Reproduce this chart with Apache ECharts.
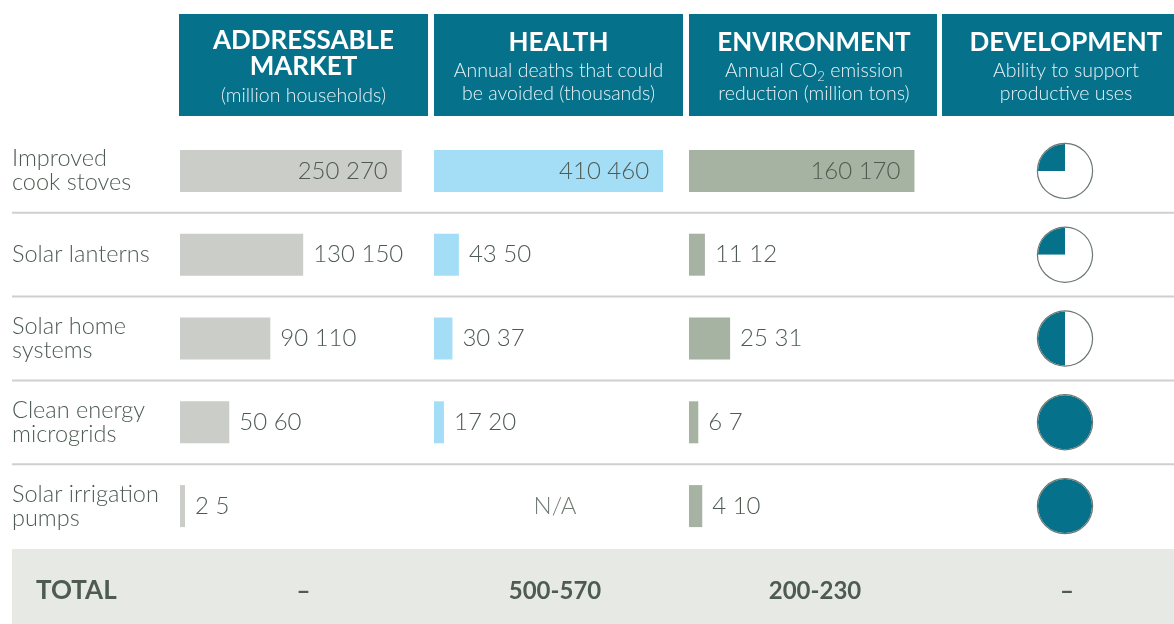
<!DOCTYPE html>
<html><head><meta charset="utf-8">
<script src="https://cdn.jsdelivr.net/npm/echarts@6/dist/echarts.min.js"></script>
<style>html,body{margin:0;padding:0;background:#fff}#c{width:1174px;height:624px}</style>
</head><body><div id="c"></div>
<script>
const rowLabels = ['Improved\ncook stoves','Solar lanterns','Solar home\nsystems','Clean energy\nmicrogrids','Solar irrigation\npumps'];
const marketLow = [250,130,90,50,2];
const marketHigh = [270,150,110,60,5];
const healthLow = [410,43,30,17,null];
const healthHigh = [460,50,37,20,null];
const envLow = [160,11,25,6,4];
const envHigh = [170,12,31,7,10];
const devShare = [0.25,0.25,0.5,1,1];
const totalLabel = 'TOTAL';
const totals = ['–','500-570','200-230','–'];

const FONT = 'Lato, "Open Sans", sans-serif';
const TXT = '#4d5b53';
const TEAL = '#05718b';
const rowTop = 129, rowH = 83.8, nRows = rowLabels.length;

const chart = echarts.init(document.getElementById('c'));

const cols = [
  {left:180, width:248, max:302, low:marketLow, high:marketHigh, color:'#cbcdc8'},
  {left:434, width:249, max:500, low:healthLow, high:healthHigh, color:'#a4def6'},
  {left:689, width:248, max:187, low:envLow, high:envHigh, color:'#a6b3a2'}
];

const grids = [], xAxes = [], yAxes = [], series = [];
cols.forEach((c, gi) => {
  grids.push({left:c.left, width:c.width, top:rowTop, height:rowH*nRows});
  xAxes.push({type:'value', gridIndex:gi, min:0, max:c.max, show:false});
  yAxes.push({type:'category', gridIndex:gi, inverse:true, data:rowLabels,
    axisLine:{show:false}, axisTick:{show:false},
    axisLabel: gi === 0 ? {show:true, align:'left', margin:168, fontFamily:FONT, fontSize:23.5, fontWeight:300, color:TXT, lineHeight:24} : {show:false}
  });
  series.push({
    type:'bar', xAxisIndex:gi, yAxisIndex:gi, barWidth:42, barMinHeight:5,
    itemStyle:{color:c.color},
    data: c.high.map((v, i) => {
      if (v == null) return null;
      const inside = v > 0.6 * c.max;
      return {value:v, label:{position: inside ? 'insideRight' : 'right', distance: inside ? 14 : 10}};
    }),
    label:{show:true, fontFamily:FONT, fontSize:24, fontWeight:300, color:TXT,
      formatter: p => c.low[p.dataIndex] + ' ' + c.high[p.dataIndex]}
  });
});

// N/A label for health column missing row (centred in the column)
healthHigh.forEach((v, i) => {
  if (v == null) {
    series.push({type:'scatter', xAxisIndex:1, yAxisIndex:1, symbolSize:0, silent:true,
      data:[[cols[1].max*0.486, i]],
      label:{show:true, position:'inside', formatter:'N/A', fontFamily:FONT, fontSize:24, fontWeight:300, color:TXT}});
  }
});

// development pies
const pieX = 1065, pieR = 27;
devShare.forEach((f, i) => {
  const cy = rowTop + rowH*(i+0.5);
  const data = [{value:f, itemStyle:{color:TEAL}}];
  if (1 - f > 0) data.push({value:1-f, itemStyle:{color:'#ffffff'}});
  series.push({type:'pie', center:[pieX, cy], radius:[0, pieR], startAngle:90, clockwise:false,
    silent:true, label:{show:false}, labelLine:{show:false}, data});
  series.push({type:'pie', center:[pieX, cy], radius:[pieR, pieR+1.2], silent:true,
    label:{show:false}, labelLine:{show:false}, data:[{value:1, itemStyle:{color:'#6b7770'}}]});
});

// graphics: headers, separators, totals band
const graphic = [];
const headers = [
  {x:179, w:249, cx:303.5, lines:[['ADDRESSABLE',41],['MARKET',67]], sub:[['(million households)',96]]},
  {x:434, w:249, cx:558.5, lines:[['HEALTH',43]], sub:[['Annual deaths that could',71],['be avoided (thousands)',94]]},
  {x:689, w:248, cx:814, lines:[['ENVIRONMENT',43]], sub:[['Annual CO{s|2} emission',71],['reduction (million tons)',94]]},
  {x:942, w:232, cx:1066, lines:[['DEVELOPMENT',43]], sub:[['Ability to support',71],['productive uses',94]]}
];
headers.forEach(h => {
  graphic.push({type:'rect', shape:{x:h.x, y:14, width:h.w, height:102}, style:{fill:TEAL}, silent:true});
  h.lines.forEach(([t, y]) => graphic.push({type:'text', x:h.cx, y:y, silent:true,
    style:{text:t, fill:'#fff', font:'bold 26px ' + FONT, textAlign:'center', textVerticalAlign:'middle'}}));
  h.sub.forEach(([t, y]) => graphic.push({type:'text', x:h.cx, y:y, silent:true,
    style:{text:t, fill:'#e8f2f5', fontFamily:FONT, fontSize:19.5, fontWeight:300, textAlign:'center', textVerticalAlign:'middle',
      rich:{s:{fontFamily:FONT, fontSize:13, fontWeight:300, fill:'#e8f2f5', padding:[12,0,0,0]}}}}));
});
for (let i = 1; i < nRows; i++) {
  const y = rowTop + rowH*i;
  graphic.push({type:'line', shape:{x1:12, y1:y, x2:1174, y2:y}, style:{stroke:'#cfcfcf', lineWidth:2}, silent:true});
}
graphic.push({type:'rect', shape:{x:12, y:549, width:1162, height:75}, style:{fill:'#e7e9e4'}, silent:true});
graphic.push({type:'text', x:36, y:591, silent:true, style:{text:totalLabel, fill:TXT, font:'bold 26px ' + FONT, textVerticalAlign:'middle'}});
[303.5, 555, 815, 1067].forEach((cx, i) => graphic.push({type:'text', x:cx, y:591, silent:true,
  style:{text:totals[i], fill:TXT, font:'bold 24px ' + FONT, textAlign:'center', textVerticalAlign:'middle'}}));

chart.setOption({
  animation:false,
  grid:grids, xAxis:xAxes, yAxis:yAxes, series, graphic
});
</script></body></html>
